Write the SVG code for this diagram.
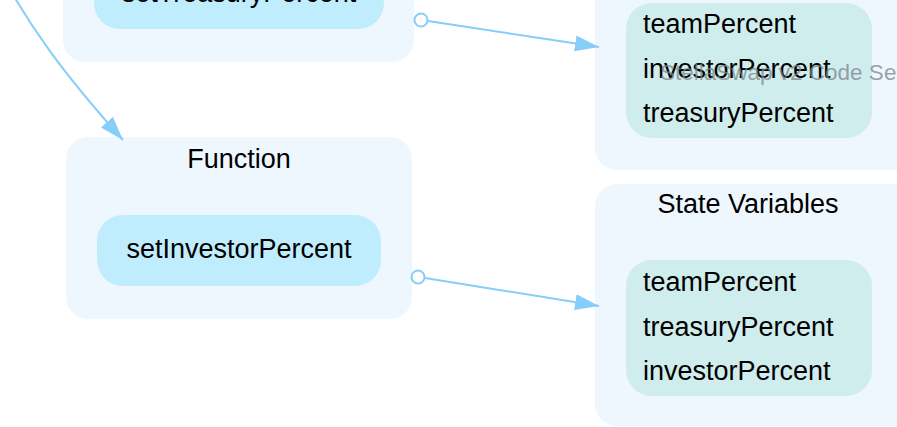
<svg xmlns="http://www.w3.org/2000/svg" width="897" height="427" viewBox="0 0 897 427">
<defs>
<style>
.cluster{fill:#eef6fe;}
.fn{fill:#bfedfd;}
.sv{fill:#cfeded;}
.lbl{font-family:"Liberation Sans",Arial,sans-serif;font-size:27px;fill:#000;}
.mid{text-anchor:middle;}
.edge{fill:none;stroke:#87cdf9;stroke-width:2;}
.tail{fill:#fff;stroke:#87cdf9;stroke-width:2;}
.wm{font-family:"Liberation Sans",Arial,sans-serif;font-size:22.5px;fill:#7d868c;fill-opacity:0.75;}
</style>
<marker id="arr" markerUnits="userSpaceOnUse" markerWidth="24" markerHeight="16" refX="24" refY="8" orient="auto" viewBox="0 0 24 16">
<path d="M0,0 L24,8 L0,16 z" fill="#87cdf9"/>
</marker>
</defs>
<rect width="897" height="427" fill="#fff"/>

<g id="cluster-setTreasury">
<rect class="cluster" x="63" y="-40" width="351" height="102" rx="22"/>
<g id="node-setTreasuryPercent">
<rect class="fn" x="94" y="-42" width="290" height="71" rx="26"/>
<text class="lbl mid" x="239" y="2">setTreasuryPercent</text>
</g>
</g>

<g id="cluster-state1">
<rect class="cluster" x="595" y="-40" width="330" height="210" rx="22"/>
<g id="node-vars1">
<rect class="sv" x="626" y="3" width="246" height="135" rx="26"/>
<text class="lbl" x="643" y="33">teamPercent</text>
<text class="lbl" x="643" y="78">investorPercent</text>
<text class="lbl" x="643" y="122">treasuryPercent</text>
</g>
</g>

<g id="cluster-function">
<rect class="cluster" x="66" y="137" width="346" height="182" rx="22"/>
<text class="lbl mid" x="239" y="168">Function</text>
<g id="node-setInvestorPercent">
<rect class="fn" x="97" y="215" width="284" height="71" rx="26"/>
<text class="lbl mid" x="239" y="258">setInvestorPercent</text>
</g>
</g>

<g id="cluster-state2">
<rect class="cluster" x="595" y="184" width="330" height="242" rx="22"/>
<text class="lbl mid" x="748" y="213">State Variables</text>
<g id="node-vars2">
<rect class="sv" x="626" y="260" width="246" height="136" rx="26"/>
<text class="lbl" x="643" y="291">teamPercent</text>
<text class="lbl" x="643" y="336">treasuryPercent</text>
<text class="lbl" x="643" y="380">investorPercent</text>
</g>
</g>

<g id="connectors">
<path class="edge" d="M8,-14 C30,25 60,70 123,140" marker-end="url(#arr)"/>
<path class="edge" d="M428,21 L599,47" marker-end="url(#arr)"/>
<circle class="tail" cx="421" cy="20" r="6.5"/>
<path class="edge" d="M425,278 L599,306" marker-end="url(#arr)"/>
<circle class="tail" cx="418" cy="277" r="6.5"/>
</g>

<text class="wm" x="660" y="80">StellaSwap v2 Code Se</text>
</svg>
